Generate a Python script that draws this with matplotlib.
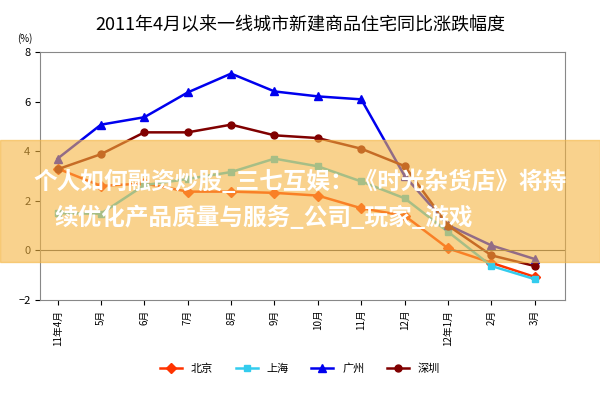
import matplotlib.pyplot as plt
from matplotlib.patches import Rectangle

plt.rcParams['font.family'] = 'Noto Sans CJK SC'

months = ['11年4月', '5月', '6月', '7月', '8月', '9月', '10月', '11月', '12月', '12年1月', '2月', '3月']
beijing = [3.3, 2.6, 2.7, 2.37, 2.37, 2.32, 2.21, 1.7, 1.4, 0.08, -0.5, -1.07]
shanghai = [1.5, 1.48, 2.63, 2.88, 3.16, 3.7, 3.39, 2.78, 2.1, 0.75, -0.63, -1.16]
guangzhou = [3.7, 5.07, 5.37, 6.37, 7.13, 6.41, 6.21, 6.09, 3.0, 1.02, 0.2, -0.35]
shenzhen = [3.27, 3.88, 4.76, 4.76, 5.07, 4.64, 4.53, 4.1, 3.4, 1.0, -0.2, -0.63]

fig = plt.figure(figsize=(6, 4), dpi=100)
ax = fig.add_axes([0.067, 0.25, 0.875, 0.62])
x = range(len(months))
ax.plot(x, beijing, color='#ff3300', marker='D', markersize=5, lw=1.8, label='北京')
ax.plot(x, shanghai, color='#33ccee', marker='s', markersize=5, lw=1.8, label='上海')
ax.plot(x, guangzhou, color='#0000ee', marker='^', markersize=6, lw=1.8, label='广州')
ax.plot(x, shenzhen, color='#800000', marker='o', markersize=5, lw=1.8, label='深圳')

ax.set_ylim(-2, 8)
ax.set_yticks([-2, 0, 2, 4, 6, 8])
ax.set_xlim(-0.4, len(months) - 0.3)
ax.set_xticks(list(x))
ax.set_xticklabels(months, rotation=90, fontsize=7)
ax.tick_params(axis='y', labelsize=8)
ax.axhline(0, color='#555555', lw=0.8)
for s in ax.spines.values():
    s.set_color('#888888')
ax.text(-0.03, 1.04, '(%)', transform=ax.transAxes, fontsize=7, ha='center')
fig.suptitle('2011年4月以来一线城市新建商品住宅同比涨跌幅度', y=0.96, fontsize=13)
fig.legend(loc='lower center', ncol=4, frameon=False, fontsize=8, bbox_to_anchor=(0.5, 0.04))

# watermark band over the chart
fig.patches.append(Rectangle((0, 0.345), 1, 0.305, transform=fig.transFigure,
                             color='#f5b541', alpha=0.6, zorder=5))
fig.text(0.5, 0.545, '个人如何融资炒股_三七互娱：《时光杂货店》将持', ha='center', va='center',
         color='white', fontsize=17, fontweight='bold', zorder=6)
fig.text(0.09, 0.455, '续优化产品质量与服务_公司_玩家_游戏', ha='left', va='center',
         color='white', fontsize=17, fontweight='bold', zorder=6)

fig.savefig('out.png')
